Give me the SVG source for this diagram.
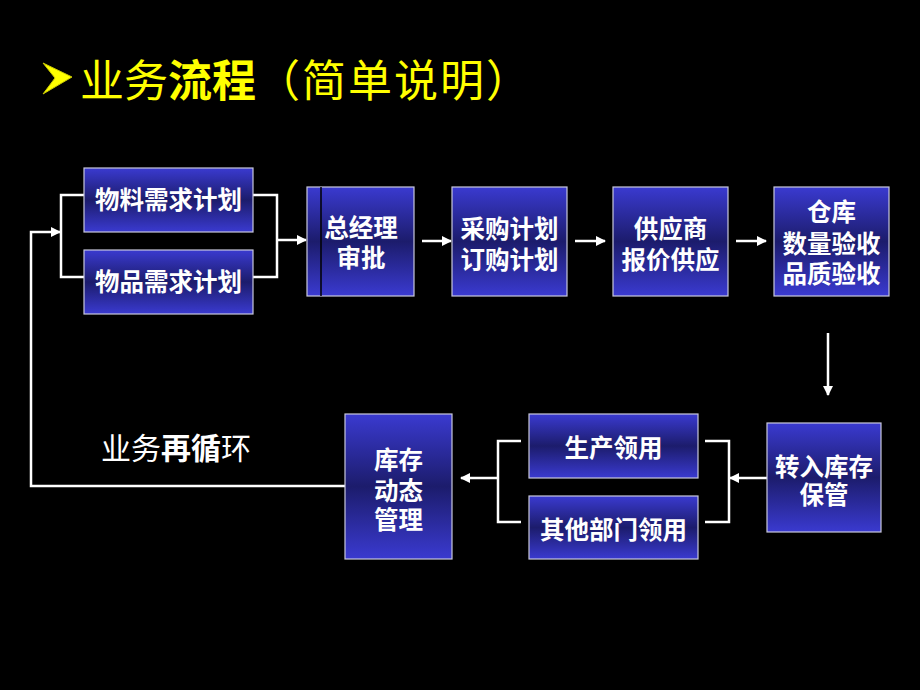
<svg xmlns="http://www.w3.org/2000/svg" width="920" height="690" viewBox="0 0 920 690">
<defs>
<linearGradient id="g" x1="0" y1="0" x2="0" y2="1">
<stop offset="0" stop-color="#3a3ad0"/>
<stop offset="0.5" stop-color="#1c1c6c"/>
<stop offset="1" stop-color="#3a3ad0"/>
</linearGradient>
<marker id="ah" viewBox="0 0 10 10" refX="9" refY="5" markerWidth="4" markerHeight="4" orient="auto" markerUnits="strokeWidth">
<path d="M0,0 L10,5 L0,10 Z" fill="#ffffff"/>
</marker>
<style>
.box{fill:url(#g);stroke:#c8c8dc;stroke-width:1.2}
.t{fill:#ffffff;font-family:"Noto Sans CJK SC","Noto Sans CJK JP",sans-serif;font-size:24.5px;font-weight:bold;text-anchor:middle}
.c{fill:none;stroke:#ffffff;stroke-width:2.5}
.a{fill:none;stroke:#ffffff;stroke-width:2.5;marker-end:url(#ah)}
.title{fill:#ffff00;font-family:"Noto Sans CJK SC","Noto Sans CJK JP",sans-serif;font-size:44px}
.lbl{fill:#ffffff;font-family:"Noto Sans CJK SC","Noto Sans CJK JP",sans-serif;font-size:30px}
</style>
</defs>
<rect width="920" height="690" fill="#000000"/>

<g id="title">
<polygon points="43,63 72,77 43,94 55,78" fill="#ffff00" stroke="#c8c800" stroke-width="1"/>
<text class="title" x="80" y="97"><tspan>业务</tspan><tspan font-weight="bold">流程</tspan><tspan letter-spacing="2">（简单说明）</tspan></text>
</g>

<g id="connectors">
<polyline class="c" points="84,195 61,195 61,277 84,277"/>
<polyline class="a" points="345,486 31,486 31,232 60,232"/>
<polyline class="c" points="253,195 277,195 277,277 253,277"/>
<line class="a" x1="277" y1="240" x2="306" y2="240"/>
<line class="a" x1="422" y1="241" x2="451" y2="241"/>
<line class="a" x1="575" y1="241" x2="605" y2="241"/>
<line class="a" x1="736" y1="241" x2="766" y2="241"/>
<line class="a" x1="828" y1="333" x2="828" y2="395"/>
<line class="a" x1="767" y1="478" x2="730" y2="478"/>
<polyline class="c" points="705,441 729,441 729,522 705,522"/>
<polyline class="c" points="521,441 498,441 498,522 521,522"/>
<line class="a" x1="498" y1="478" x2="461" y2="478"/>
</g>

<g id="n1"><rect class="box" x="84" y="168" width="169" height="64"/><text class="t" x="168.5" y="209">物料需求计划</text></g>
<g id="n2"><rect class="box" x="84" y="250" width="169" height="64"/><text class="t" x="168.5" y="291">物品需求计划</text></g>
<g id="n3"><rect class="box" x="307" y="187" width="107" height="109"/><line x1="321" y1="187" x2="321" y2="296" stroke="#000000" stroke-width="1.5"/><text class="t" x="361" y="237">总经理</text><text class="t" x="361" y="267">审批</text></g>
<g id="n4"><rect class="box" x="452" y="187" width="115" height="109"/><text class="t" x="509.5" y="238">采购计划</text><text class="t" x="509.5" y="269">订购计划</text></g>
<g id="n5"><rect class="box" x="613" y="187" width="115" height="109"/><text class="t" x="670.5" y="238">供应商</text><text class="t" x="670.5" y="269">报价供应</text></g>
<g id="n6"><rect class="box" x="774" y="187" width="115" height="109"/><text class="t" x="831.5" y="221">仓库</text><text class="t" x="831.5" y="253">数量验收</text><text class="t" x="831.5" y="283">品质验收</text></g>
<g id="n7"><rect class="box" x="767" y="423" width="114" height="109"/><text class="t" x="824" y="476">转入库存</text><text class="t" x="824" y="504">保管</text></g>
<g id="n8"><rect class="box" x="529" y="414" width="169" height="64"/><text class="t" x="613.5" y="457">生产领用</text></g>
<g id="n9"><rect class="box" x="529" y="496" width="169" height="63"/><text class="t" x="613.5" y="539">其他部门领用</text></g>
<g id="n10"><rect class="box" x="345" y="414" width="107" height="145"/><text class="t" x="398.5" y="469">库存</text><text class="t" x="398.5" y="500">动态</text><text class="t" x="398.5" y="529">管理</text></g>

<g id="label"><text class="lbl" x="101" y="459"><tspan>业务</tspan><tspan font-weight="bold">再循</tspan><tspan>环</tspan></text></g>
</svg>
